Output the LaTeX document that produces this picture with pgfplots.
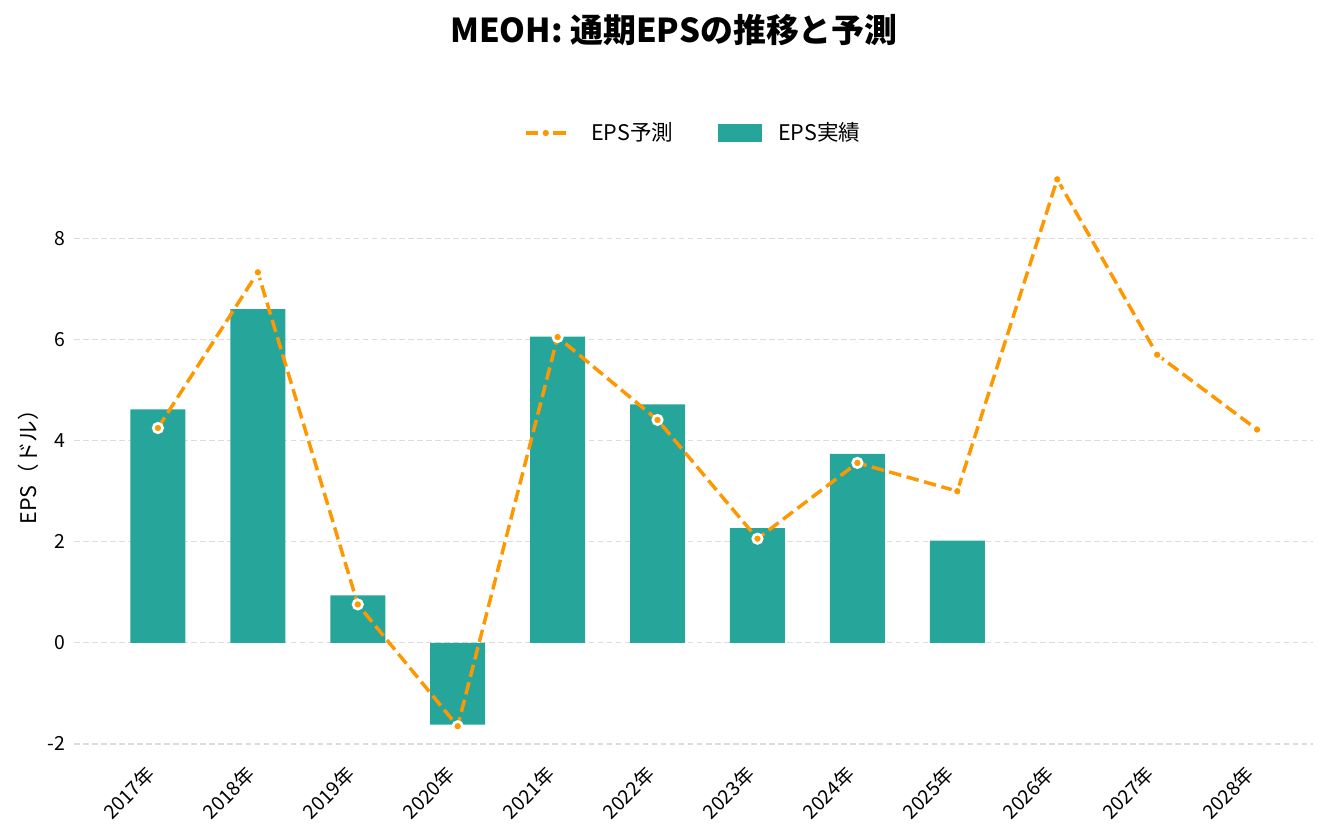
\documentclass[border=0pt]{standalone}
\usepackage{pgfplots}
\pgfplotsset{compat=1.18}
\usepackage{fontspec}
\setmainfont{Noto Sans CJK JP}
\definecolor{barteal}{RGB}{38,166,154}
\definecolor{lineorange}{RGB}{255,152,0}
\definecolor{gridgray}{RGB}{220,220,220}
\pgfplotsset{
    barlegend/.style={legend image code/.code={
        \fill[barteal] (0pt,-6.5pt) rectangle (31.7pt,6.5pt);
        \path (41.7pt,0pt);}},
    linelegend/.style={legend image code/.code={
        \draw[##1, solid, mark=none] (0pt,0pt) -- (9pt,0pt);
        \draw[##1, solid, mark=none] (19.8pt,0pt) -- (28.8pt,0pt);
        \path[##1] plot coordinates {(14.4pt,0pt)};
        \path (43.8pt,0pt);}},
}

\begin{document}
\begin{tikzpicture}
\useasboundingbox (-53.28pt,-61.92pt) rectangle (903.6pt,541.44pt);
\begin{axis}[
    at={(0,0)}, anchor=south west,
    scale only axis, width=892.1pt, height=432.7pt,
    xmin=-0.84, xmax=11.56, ymin=-2.16, ymax=9.73,
    axis line style={draw=none},
    major tick length=0pt,
    xtick={0,...,11},
    xticklabels={2017年,2018年,2019年,2020年,2021年,2022年,2023年,2024年,2025年,2026年,2027年,2028年},
    ytick={-2,0,2,4,6,8},
    /pgf/number format/assume math mode=true,
    tick label style={font=\fontsize{14}{16}\selectfont},
    xticklabel style={xshift=-9.5pt, yshift=-4pt, rotate=45, anchor=north east},
    yticklabel style={xshift=-3pt},
    ymajorgrids,
    grid style={gridgray, dash pattern=on 4pt off 2.5pt, line width=0.9pt},
    ylabel={EPS（ドル）},
    ylabel style={at={(axis description cs:-0.0371,0.483)}, anchor=center, font=\fontsize{15.5}{18}\selectfont},
    legend style={draw=none, fill=none, at={(0.5,1.03)}, anchor=center,
        font=\fontsize{15.5}{18}\selectfont, legend columns=2,
        /tikz/every even column/.append style={column sep=30pt}},
    reverse legend,
]
\addplot[fill=barteal, draw=none, ybar, bar width=39.6pt, barlegend]
    coordinates {(0,4.62) (1,6.60) (2,0.94) (3,-1.62) (4,6.06) (5,4.72) (6,2.27) (7,3.74) (8,2.02)};
\addlegendentry{EPS実績}
\addplot[lineorange, line width=2.5pt, dash pattern=on 9pt off 4pt,
    mark=*, mark size=3.4pt, mark options={solid, fill=lineorange, draw=white, line width=1.9pt}, linelegend]
    coordinates {(0,4.25) (1,7.33) (2,0.76) (3,-1.65) (4,6.05) (5,4.41) (6,2.06) (7,3.56) (8,3.00) (9,9.17) (10,5.70) (11,4.22)};
\addlegendentry{EPS予測}
\end{axis}
\node[font=\fontsize{23.7}{27}\selectfont\bfseries] at (432pt,519.8pt) {MEOH: 通期EPSの推移と予測};
\end{tikzpicture}
\end{document}
